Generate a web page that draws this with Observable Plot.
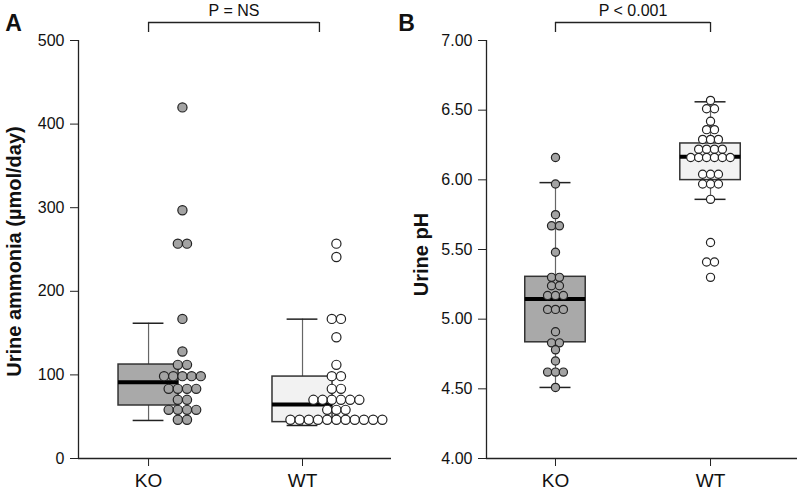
<!DOCTYPE html>
<html><head><meta charset="utf-8">
<script src="https://cdn.jsdelivr.net/npm/d3@7"></script>
<script src="https://cdn.jsdelivr.net/npm/@observablehq/plot@0.6"></script>
<style>
body{margin:0;background:#fff;}
#wrap{display:flex;width:800px;height:493px;}
</style></head><body><div id="wrap"></div>
<script>
const groups = ["KO", "WT"];

// Panel A: urine ammonia (µmol/day) — dots as drawn (binned rows)
const ammoniaKO = [420, 297, 257, 257, 167, 128, 112, 112,
  98.5, 98.5, 98.5, 98.5, 98.5, 83.3, 83.3, 83.3, 83.3, 70.2, 70.2,
  58.2, 58.2, 58.2, 58.2, 46.3, 46.3];
const ammoniaWT = [257, 241, 167, 167, 145, 112, 98.5, 98.5, 83.3, 83.3,
  70.2, 70.2, 70.2, 70.2, 70.2, 70.2, 58.2, 58.2, 58.2,
  46.3, 46.3, 46.3, 46.3, 46.3, 46.3, 46.3, 46.3, 46.3, 46.3, 46.3];
const ammoniaLo = [45.5, 39.5];
const ammoniaQ1 = [63.4, 43.5];
const ammoniaMedian = [91.3, 64.6];
const ammoniaQ3 = [112.4, 98];
const ammoniaHi = [161.8, 166.7];
const ammoniaTicks = [0, 100, 200, 300, 400, 500];

// Panel B: urine pH
const phKO = [6.16, 5.97, 5.75, 5.67, 5.67, 5.48, 5.30, 5.30, 5.24, 5.24,
  5.17, 5.17, 5.17, 5.07, 5.07, 5.07, 4.91, 4.83, 4.83, 4.78, 4.70,
  4.62, 4.62, 4.62, 4.51];
const phWT = [6.57, 6.51, 6.51, 6.42, 6.36, 6.36, 6.29, 6.29, 6.29,
  6.22, 6.22, 6.22, 6.22, 6.16, 6.16, 6.16, 6.16, 6.16, 6.16,
  6.04, 6.04, 6.04, 5.97, 5.97, 5.97, 5.86, 5.55, 5.41, 5.41, 5.30];
const phLo = [4.51, 5.86];
const phQ1 = [4.834, 5.998];
const phMedian = [5.144, 6.165];
const phQ3 = [5.304, 6.261];
const phHi = [5.98, 6.56];
const phTicks = [4, 4.5, 5, 5.5, 6, 6.5, 7];

const pLabels = ["P = NS", "P < 0.001"];
const yLabels = ["Urine ammonia (µmol/day)", "Urine pH"];
const panelLetters = ["A", "B"];

const FONT = "Liberation Sans, Arial, Helvetica, sans-serif";
const fills = {box: ["#a9a9a9", "#f2f2f2"], dot: ["#a3a3a3", "#ffffff"]};

function dotRows(values, gi, spacing, shift) {
  const counts = d3.rollup(values, v => v.length, d => d);
  const out = [];
  for (const [v, n] of counts)
    for (let i = 0; i < n; i++)
      out.push({x: gi + 1 + shift + (i - (n - 1) / 2) * spacing, y: v, g: groups[gi], gi});
  return out;
}

function panel(cfg) {
  const boxes = groups.map((g, i) => ({g, gi: i, x: i + 1,
    lo: cfg.lo[i], q1: cfg.q1[i], med: cfg.median[i], q3: cfg.q3[i], hi: cfg.hi[i]}));
  const dots = [...dotRows(cfg.ko, 0, cfg.spacing, cfg.shift), ...dotRows(cfg.wt, 1, cfg.spacing, cfg.shift)];
  const ymax = cfg.yDomain[1], ymin = cfg.yDomain[0];
  const bw = 0.195, cw = 0.1;
  const bx2 = 2 + cfg.bracketShift;
  const svg = Plot.plot({
    width: cfg.width, height: 493,
    marginLeft: cfg.ml, marginRight: cfg.mr, marginTop: 40, marginBottom: 35,
    style: {fontFamily: FONT, color: "#111", background: "#fff", overflow: "visible"},
    x: {domain: cfg.xDomain},
    y: {domain: cfg.yDomain},
    marks: [
      Plot.ruleX(boxes, {x: "x", y1: "lo", y2: "q1", stroke: "#666", strokeWidth: 1.2}),
      Plot.ruleX(boxes, {x: "x", y1: "q3", y2: "hi", stroke: "#666", strokeWidth: 1.2}),
      Plot.rect(boxes, {x1: d => d.x - bw, x2: d => d.x + bw, y1: "q1", y2: "q3",
        fill: d => fills.box[d.gi], stroke: "#333", strokeWidth: 1.5}),
      Plot.ruleY(boxes, {y: "med", x1: d => d.x - bw, x2: d => d.x + bw, stroke: "#000", strokeWidth: 4}),
      Plot.ruleY(boxes, {y: "lo", x1: d => d.x - cw, x2: d => d.x + cw, stroke: "#222", strokeWidth: 1.5}),
      Plot.ruleY(boxes, {y: "hi", x1: d => d.x - cw, x2: d => d.x + cw, stroke: "#222", strokeWidth: 1.5}),
      Plot.dot(dots, {x: "x", y: "y", r: cfg.r, fill: d => fills.dot[d.gi], stroke: "#222", strokeWidth: 1.2}),
      Plot.ruleX([cfg.xDomain[0]], {stroke: "#222", strokeWidth: 1.3}),
      Plot.ruleY([ymin], {stroke: "#222", strokeWidth: 1.3}),
      Plot.axisY({ticks: cfg.ticks, tickFormat: cfg.tickFormat, tickSize: 8, tickPadding: 6, fontSize: 16, label: null, stroke: "#222"}),
      Plot.axisX({ticks: [1, 2], tickFormat: d => groups[d - 1], tickSize: 8, tickPadding: 7, fontSize: 19, label: null, stroke: "#222"}),
      // significance bracket
      Plot.ruleY([ymax], {x1: 1, x2: bx2, dy: -18, stroke: "#222", strokeWidth: 1.3}),
      Plot.ruleX([1, bx2], {x: d => d, y1: ymax, y2: ymax, dy: -18, insetBottom: -10, stroke: "#222", strokeWidth: 1.3}),
      Plot.text([cfg.pLabel], {x: (1 + bx2) / 2, y: ymax, dy: -30, text: d => d, fontSize: 16, fill: "#111"}),
      // y label and panel letter
      Plot.text([cfg.yLabel], {frameAnchor: "left", textAnchor: "middle", dx: cfg.labelDx, dy: cfg.labelDy, rotate: -90, text: d => d,
        fontSize: 20, fontWeight: "bold", fill: "#111", ariaLabel: "ylabel"}),
      Plot.text([cfg.letter], {frameAnchor: "top-left", textAnchor: "middle", dx: cfg.letterDx, dy: -26, text: d => d,
        fontSize: 23, fontWeight: "bold", fill: "#111"})
    ]
  });
  // the reference's axis title is drawn slightly stretched along its length
  d3.select(svg).selectAll('g[aria-label="ylabel"] text').each(function () {
    const t = this.getAttribute("transform") || "";
    this.setAttribute("transform", t + " scale(1.33,1)");
  });
  return svg;
}

const wrap = document.getElementById("wrap");
wrap.append(panel({
  width: 396,
  ko: ammoniaKO, wt: ammoniaWT, lo: ammoniaLo, q1: ammoniaQ1, median: ammoniaMedian, q3: ammoniaQ3, hi: ammoniaHi,
  yDomain: [0, 500], ticks: ammoniaTicks, tickFormat: d3.format("d"),
  xDomain: [0.545, 2.578], ml: 78, mr: 5, spacing: 0.0597, shift: 0.22, bracketShift: 0.11, r: 4.6,
  pLabel: pLabels[0], yLabel: yLabels[0], letter: panelLetters[0], labelDx: -64, labelDy: 2, letterDx: -65
}));
wrap.append(panel({
  width: 404,
  ko: phKO, wt: phWT, lo: phLo, q1: phQ1, median: phMedian, q3: phQ3, hi: phHi,
  yDomain: [4, 7], ticks: phTicks, tickFormat: d3.format(".2f"),
  xDomain: [0.555, 2.561], ml: 90, mr: 3, spacing: 0.051, shift: 0, bracketShift: 0, r: 4.1,
  pLabel: pLabels[1], yLabel: yLabels[1], letter: panelLetters[1], labelDx: -65, labelDy: 5, letterDx: -80
}));
</script></body></html>
